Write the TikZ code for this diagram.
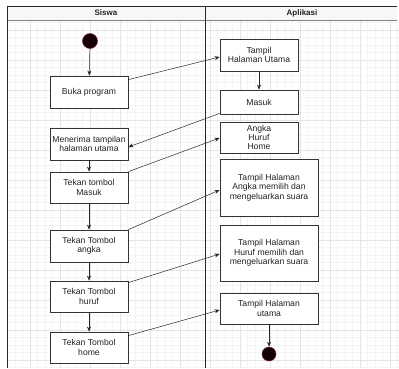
\documentclass[tikz,border=0pt]{standalone}
\usepackage{fontspec}
\setmainfont{Liberation Sans}
\usetikzlibrary{arrows.meta,calc,shadows}
\definecolor{txt}{HTML}{222222}
\definecolor{gridminor}{HTML}{F4F4F4}
\definecolor{gridmajor}{HTML}{E4E4E4}
\definecolor{dotfill}{HTML}{120006}
\definecolor{dotedge}{HTML}{7A2030}
\begin{document}
\begin{tikzpicture}[x=1pt,y=-1pt,
  box/.style={draw=black!80,line width=0.8pt,fill=white,rectangle,align=center,
    text=txt,font=\fontsize{8.6pt}{9.3pt}\selectfont,inner sep=1pt,
    drop shadow={shadow xshift=1.2pt,shadow yshift=-1.2pt,opacity=0.35}},
  dot/.style={circle,fill=dotfill,draw=dotedge,line width=0.5pt,minimum size=15pt,inner sep=0pt},
  arr/.style={-{Stealth[length=5pt,width=4pt]},line width=0.5pt,black!85},
  lane/.style={line width=0.9pt,black!85},
  hdr/.style={font=\bfseries\fontsize{8pt}{9pt}\selectfont,text=txt}]
\useasboundingbox (0,0) rectangle (399,368);
\fill[white] (0,0) rectangle (399,368);
% grid
\draw[gridminor,line width=0.3pt] (7,20) grid[step=7.5pt] (399,368);
\draw[gridmajor,line width=0.4pt] (7,20) grid[step=30pt] (399,368);
% header
\fill[black!3] (7,6) rectangle (397,20);
\draw[lane] (7,6) -- (397,6);
\draw[black!50,line width=0.8pt] (7,20) -- (397,20);
\draw[lane] (7,6) -- (7,368);
\draw[lane] (205,6) -- (205,368);
\node[hdr] (hs) at (106,13) {Siswa};
\node[hdr] (ha) at (302,13) {Aplikasi};
% Siswa nodes
\node[dot] (start) at (90,41) {};
\node[box,minimum width=78pt,minimum height=32pt] (buka) at (89,92) {Buka program};
\node[box,minimum width=78pt,minimum height=32pt] (menerima) at (89,144) {Menerima tampilan\\halaman utama};
\node[box,minimum width=78pt,minimum height=31pt] (tmasuk) at (89,187.5) {Tekan tombol\\Masuk};
\node[box,minimum width=78pt,minimum height=32pt] (tangka) at (89,246) {Tekan Tombol\\angka};
\node[box,minimum width=78pt,minimum height=31pt] (thuruf) at (89,296.5) {Tekan Tombol\\huruf};
\node[box,minimum width=78pt,minimum height=31pt] (thome) at (89,347.5) {Tekan Tombol\\home};
% Aplikasi nodes
\node[box,minimum width=78pt,minimum height=32pt] (tu) at (259,55) {Tampil\\Halaman Utama};
\node[box,minimum width=78pt,minimum height=24pt] (masukR) at (259,102) {Masuk};
\node[box,minimum width=78pt,minimum height=31pt] (ahh) at (259,137.5) {Angka\\Huruf\\Home};
\node[box,minimum width=98pt,minimum height=57pt] (tpa) at (269,187.5) {Tampil Halaman\\Angka memilih dan\\mengeluarkan suara};
\node[box,minimum width=98pt,minimum height=56pt] (tph) at (269,253) {Tampil Halaman\\Huruf memilih dan\\mengeluarkan suara};
\node[box,minimum width=98pt,minimum height=31pt] (tpu) at (269,308.5) {Tampil Halaman\\utama};
\node[dot,minimum size=14pt] (end) at (269,354) {};
% vertical flows
\draw[arr] (start) -- (buka);
\draw[arr] (menerima) -- (tmasuk);
\draw[arr] (tmasuk) -- (tangka);
\draw[arr] (tangka) -- (thuruf);
\draw[arr] (thuruf) -- (thome);
\draw[arr] (tu) -- (masukR);
\draw[arr] (tpu.south -| end) -- (end);
% cross-lane flows
\draw[arr] ($(buka.north east)+(0,4)$) -- ($(tu.west)+(0,2)$);
\draw[arr] ($(masukR.south west)+(0,-1)$) -- ($(menerima.east)+(0,3)$);
\draw[arr] (tmasuk.north east) -- ($(ahh.west)+(0,0.5)$);
\draw[arr] (tangka.north east) -- ($(tpa.west)+(0,2.5)$);
\draw[arr] ($(thuruf.north east)+(0,2)$) -- ($(tph.west)+(0,1)$);
\draw[arr] ($(thome.north east)+(0,4)$) -- ($(tpu.west)+(0,1.5)$);
\end{tikzpicture}
\end{document}
